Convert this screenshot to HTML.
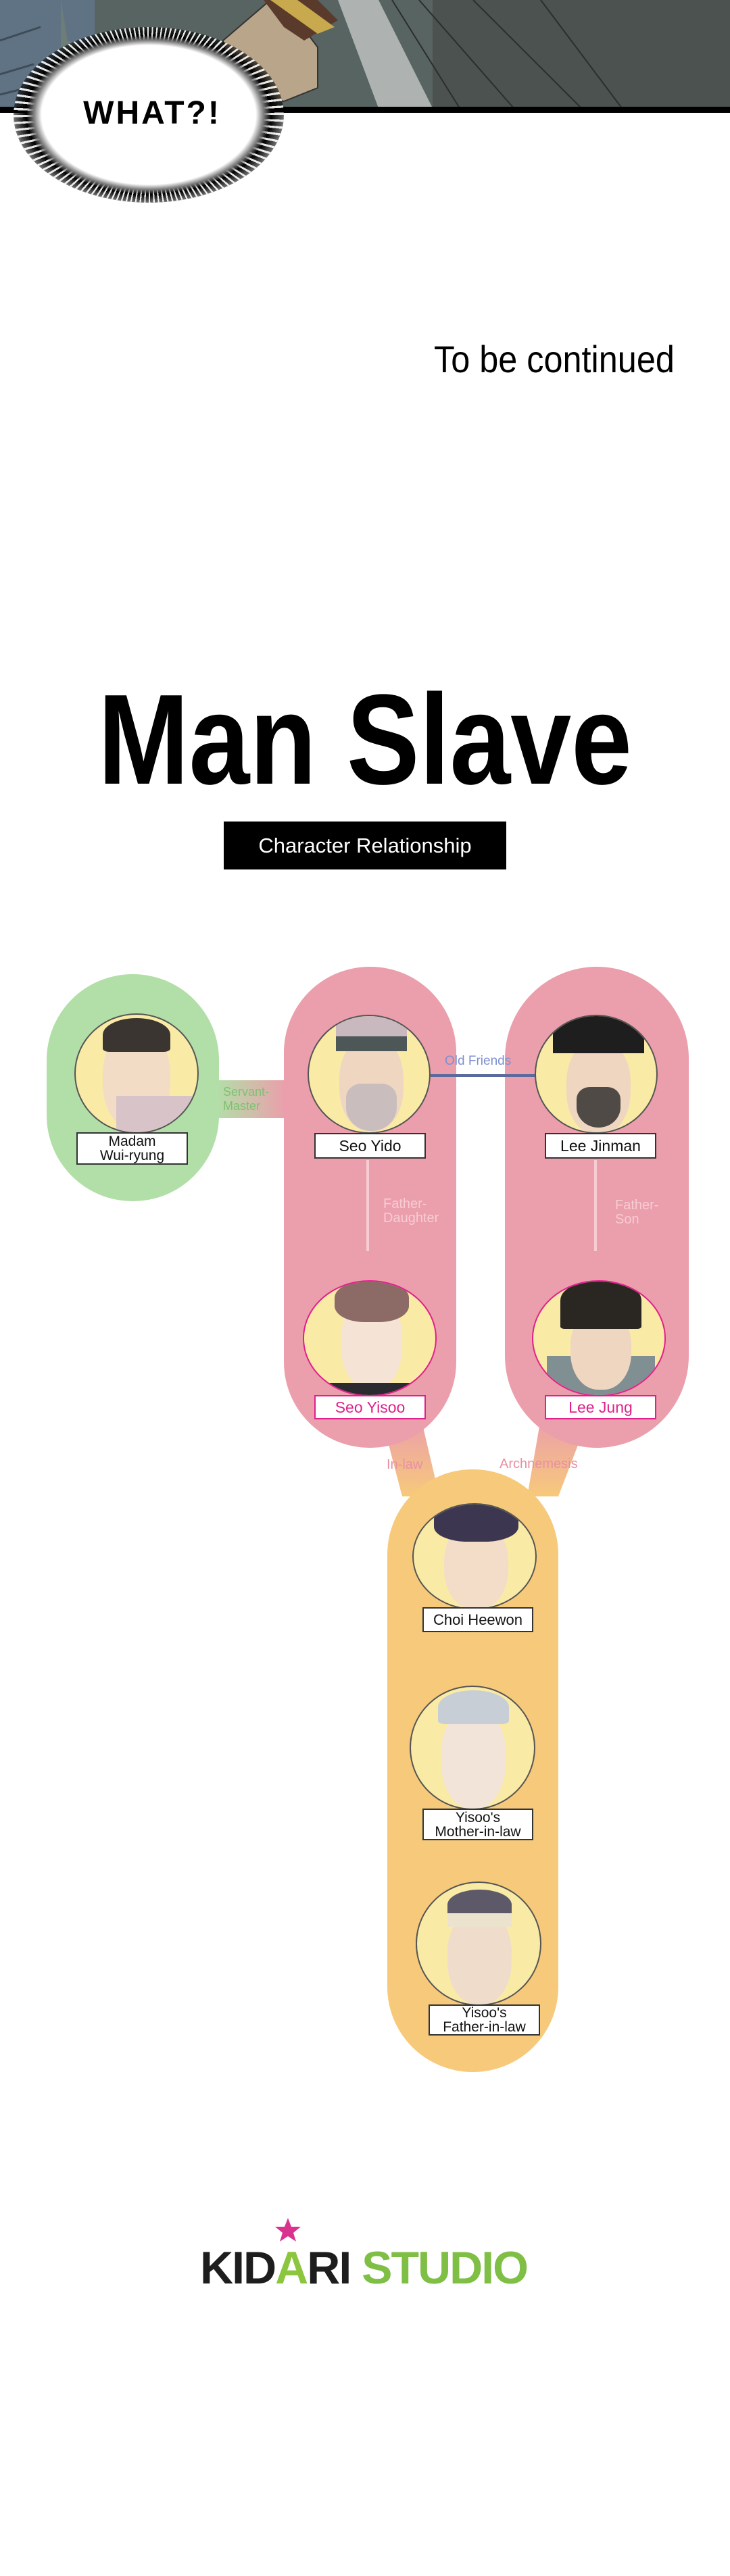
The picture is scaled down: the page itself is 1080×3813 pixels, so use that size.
<!DOCTYPE html>
<html><head><meta charset="utf-8"><style>
html,body{margin:0;padding:0;background:#fff;}
body{width:1080px;height:3813px;position:relative;overflow:hidden;font-family:"Liberation Sans",sans-serif;}
.a{position:absolute;}
.circ{position:absolute;border-radius:50%;background:#f9eba6;border:2px solid #555;box-sizing:border-box;overflow:hidden;}
.lbl{position:absolute;background:#fff;border:2px solid #333;box-sizing:border-box;display:flex;align-items:center;justify-content:center;text-align:center;font-family:"Liberation Sans",sans-serif;font-size:21px;line-height:21px;color:#111;white-space:nowrap;}
.rel{position:absolute;font-family:"Liberation Sans",sans-serif;font-size:20px;line-height:21px;white-space:nowrap;}
</style></head><body>

<svg class="a" style="left:0;top:0" width="1080" height="170">
<rect x="0" y="0" width="1080" height="160" fill="#586461"/>
<rect x="0" y="0" width="140" height="160" fill="#5f7384"/>
<path d="M0 60 L60 40 M0 110 L50 95 M0 140 L40 130" stroke="#3f4c57" stroke-width="3"/>
<path d="M90 0 L100 60 L170 90 L170 160 L90 160 Z" fill="#6e7d78"/>
<rect x="640" y="0" width="440" height="160" fill="#4c524f"/>
<path d="M500 0 L560 160 L640 160 L560 0 Z" fill="#aeb3b1"/>
<path d="M580 0 L680 160 M620 0 L760 160 M700 0 L860 160 M800 0 L920 160" stroke="#2a2e2c" stroke-width="2" fill="none"/>
<path d="M400 0 L440 30 L470 70 L470 130 L420 150 L340 130 L330 60 Z" fill="#b8a58a" stroke="#333" stroke-width="2"/>
<path d="M390 0 L420 40 L450 60 L500 30 L470 0 Z" fill="#5a3a2a"/>
<path d="M400 0 L470 50 L495 40 L440 0 Z" fill="#c9a94e"/>
<rect x="0" y="158" width="1080" height="9" fill="#000"/>
</svg>
<div class="a" style="left:20px;top:40px;width:400px;height:260px;border-radius:50%;background:radial-gradient(ellipse at center,#fff 0%,#fff 56%,#000 64%,rgba(0,0,0,.6) 70%,rgba(0,0,0,0) 74%);"></div>
<div class="a" style="left:20px;top:40px;width:400px;height:260px;border-radius:50%;background:repeating-conic-gradient(rgba(255,255,255,0) 0deg 2deg,rgba(255,255,255,.9) 2deg 3deg);-webkit-mask:radial-gradient(ellipse,transparent 60%,#000 64%);mask:radial-gradient(ellipse,transparent 60%,#000 64%);"></div>
<div class="a" style="left:105px;top:140px;width:240px;text-align:center;font-size:48px;font-weight:bold;letter-spacing:3px;color:#000;">WHAT?!</div>

<div class="a" style="left:642px;top:500px;font-size:56px;line-height:64px;color:#000;white-space:nowrap;transform:scaleX(0.9);transform-origin:0 0;">To be continued</div>

<div class="a" style="left:145px;top:995px;font-size:190px;line-height:200px;font-weight:bold;color:#000;white-space:nowrap;transform:scaleX(0.85);transform-origin:0 0;">Man Slave</div>
<div class="a" style="left:331px;top:1216px;width:418px;height:71px;background:#000;color:#fff;font-size:31px;display:flex;align-items:center;justify-content:center;white-space:nowrap;">Character Relationship</div>

<svg class="a" style="left:0;top:1400px" width="1080" height="1700">
<defs>
<linearGradient id="gp" x1="0" x2="1"><stop offset="0" stop-color="#b2dfa8"/><stop offset="1" stop-color="#eb9eab"/></linearGradient>
<linearGradient id="po" x1="0" y1="0" x2="0" y2="1"><stop offset="0" stop-color="#eb9eab"/><stop offset="1" stop-color="#f7c97b"/></linearGradient>
</defs>
<rect x="320" y="199" width="104" height="56" fill="url(#gp)"/>
<polygon points="565,700 623,700 650,815 595,815" fill="url(#po)"/>
<polygon points="800,700 870,700 826,815 780,815" fill="url(#po)"/>
<rect x="69" y="42" width="255" height="336" rx="127" fill="#b2dfa8"/>
<rect x="420" y="31" width="255" height="712" rx="127" fill="#eb9eab"/>
<rect x="747" y="31" width="272" height="712" rx="136" fill="#eb9eab"/>
<rect x="573" y="775" width="253" height="892" rx="126" fill="#f7c97b"/>
<line x1="637" y1="192" x2="792" y2="192" stroke="#5b6a9c" stroke-width="4"/>
<line x1="544" y1="317" x2="544" y2="452" stroke="#f7cdd4" stroke-width="4"/>
<line x1="881" y1="317" x2="881" y2="452" stroke="#f7cdd4" stroke-width="4"/>
</svg>

<div class="circ" style="left:110px;top:1500px;width:184px;height:178px;"><div class="a" style="left:40px;top:20px;width:100px;height:150px;background:#f2dcc6;border-radius:45%;"></div><div class="a" style="left:40px;top:5px;width:100px;height:50px;background:#3a3531;border-radius:50% 50% 10% 10%;"></div><div class="a" style="left:60px;top:120px;width:130px;height:80px;background:#d8c4c8;"></div></div>
<div class="circ" style="left:455px;top:1502px;width:182px;height:176px;"><div class="a" style="left:45px;top:30px;width:95px;height:140px;background:#efd6c0;border-radius:45%;"></div><div class="a" style="left:40px;top:0px;width:105px;height:45px;background:#c9b9bf;"></div><div class="a" style="left:40px;top:30px;width:105px;height:22px;background:#4d5758;"></div><div class="a" style="left:55px;top:100px;width:75px;height:70px;background:#c9bdbd;border-radius:30% 30% 50% 50%;"></div></div>
<div class="circ" style="left:791px;top:1502px;width:182px;height:176px;"><div class="a" style="left:45px;top:35px;width:95px;height:140px;background:#efd6c0;border-radius:45%;"></div><div class="a" style="left:25px;top:0px;width:135px;height:55px;background:#1e1e1e;"></div><div class="a" style="left:60px;top:105px;width:65px;height:60px;background:#4f4a45;border-radius:30% 30% 50% 50%;"></div></div>
<div class="circ" style="left:448px;top:1895px;width:198px;height:172px;border-color:#e0208c;"><div class="a" style="left:55px;top:20px;width:90px;height:140px;background:#f5e3d6;border-radius:45%;"></div><div class="a" style="left:45px;top:0;width:110px;height:60px;background:#8c6a66;border-radius:40%;"></div><div class="a" style="left:20px;top:150px;width:160px;height:30px;background:#2a2a30;"></div></div>
<div class="circ" style="left:787px;top:1895px;width:198px;height:172px;border-color:#e0208c;"><div class="a" style="left:20px;top:110px;width:160px;height:80px;background:#7f8f92;"></div><div class="a" style="left:55px;top:40px;width:90px;height:120px;background:#efd6c0;border-radius:45%;"></div><div class="a" style="left:40px;top:0;width:120px;height:70px;background:#2a2622;border-radius:40% 40% 5% 5%;"></div></div>
<div class="circ" style="left:610px;top:2225px;width:184px;height:158px;"><div class="a" style="left:45px;top:25px;width:95px;height:130px;background:#f3ddc9;border-radius:45%;"></div><div class="a" style="left:30px;top:0;width:125px;height:55px;background:#3d3650;border-radius:40%;"></div></div>
<div class="circ" style="left:606px;top:2495px;width:186px;height:184px;"><div class="a" style="left:45px;top:30px;width:95px;height:150px;background:#f3e4da;border-radius:45%;"></div><div class="a" style="left:40px;top:5px;width:105px;height:50px;background:#c7ced6;border-radius:50% 50% 10% 10%;"></div></div>
<div class="circ" style="left:615px;top:2785px;width:186px;height:184px;"><div class="a" style="left:45px;top:40px;width:95px;height:140px;background:#f0dccb;border-radius:45%;"></div><div class="a" style="left:45px;top:10px;width:95px;height:45px;background:#5d5968;border-radius:50% 50% 10% 10%;"></div><div class="a" style="left:45px;top:45px;width:95px;height:20px;background:#ece3cf;"></div></div>

<div class="lbl" style="left:113px;top:1676px;width:165px;height:48px;">Madam<br>Wui-ryung</div>
<div class="lbl" style="left:465px;top:1677px;width:165px;height:38px;font-size:23px;">Seo Yido</div>
<div class="lbl" style="left:806px;top:1677px;width:165px;height:38px;font-size:23px;">Lee Jinman</div>
<div class="lbl" style="left:465px;top:2065px;width:165px;height:36px;font-size:23px;border-color:#e0208c;color:#e0208c;">Seo Yisoo</div>
<div class="lbl" style="left:806px;top:2065px;width:165px;height:36px;font-size:23px;border-color:#e0208c;color:#e0208c;">Lee Jung</div>
<div class="lbl" style="left:625px;top:2379px;width:164px;height:37px;font-size:22px;">Choi Heewon</div>
<div class="lbl" style="left:625px;top:2677px;width:164px;height:47px;font-size:21px;">Yisoo's<br>Mother-in-law</div>
<div class="lbl" style="left:634px;top:2967px;width:165px;height:46px;font-size:21px;">Yisoo's<br>Father-in-law</div>

<div class="rel" style="left:330px;top:1606px;color:#7cc271;font-size:18px;">Servant-<br>Master</div>
<div class="rel" style="left:658px;top:1560px;color:#7f8fd0;font-size:19px;">Old Friends</div>
<div class="rel" style="left:567px;top:1772px;color:#f7cdd4;">Father-<br>Daughter</div>
<div class="rel" style="left:910px;top:1774px;color:#f7cdd4;">Father-<br>Son</div>
<div class="rel" style="left:572px;top:2158px;color:#e890a2;">In-law</div>
<div class="rel" style="left:739px;top:2157px;color:#e890a2;">Archnemesis</div>

<svg class="a" style="left:405px;top:3282px" width="42" height="38"><polygon points="21,1 26,14 40,14 29,23 33,36 21,28 9,36 13,23 2,14 16,14" fill="#d9338f"/></svg>
<div class="a" style="left:296px;top:3321px;font-size:68px;line-height:72px;font-weight:bold;color:#1d1d1d;letter-spacing:-2px;white-space:nowrap;">KID<span style="color:#8cc63f">A</span>RI <span style="color:#7fbf45;">STUDIO</span></div>
</body></html>
